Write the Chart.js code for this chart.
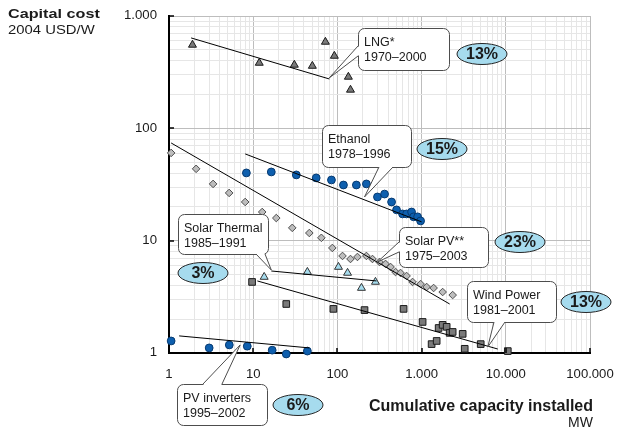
<!DOCTYPE html>
<html lang="en">
<head>
<meta charset="UTF-8">
<title>Capital cost vs cumulative capacity installed</title>
<script src="https://cdn.jsdelivr.net/npm/chart.js@4"></script>
<style>
  html, body { margin: 0; padding: 0; background: #fff; }
  canvas { display: block; }
</style>
</head>
<body>
<canvas id="chart" width="617" height="430"></canvas>
<script>
// axis ticks (thousands separator as in the source: 1.000)
const xTickValues = [1, 10, 100, 1000, 10000, 100000];
const xTickLabels = ['1', '10', '100', '1.000', '10.000', '100.000'];
const yTickValues = [1, 10, 100, 1000];
const yTickLabels = ['1', '10', '100', '1.000'];

// LNG 1970-2000
const lngCapacity = [1.9, 11.8, 30.8, 50.4, 72, 92, 135, 143];
const lngCost = [553, 382, 367, 359, 588, 441, 287, 220];
const lngTrendX = [1.83, 80.3];
const lngTrendY = [638, 275];

// Ethanol 1978-1996
const ethanolCapacity = [8.3, 16.4, 32.5, 56, 85, 118, 168, 221, 299, 363, 440, 504, 594, 663, 760, 804, 896, 973];
const ethanolCost = [40.1, 40.9, 38.5, 36.2, 34.7, 31.3, 31.3, 32.0, 24.5, 26.0, 22.1, 18.8, 17.3, 17.3, 18.0, 16.3, 16.3, 15.0];
const ethanolTrendX = [8.03, 1000];
const ethanolTrendY = [59.2, 14.7];

// Solar PV 1975-2003
const solarPvCapacity = [1.06, 2.1, 3.34, 5.18, 8.03, 12.8, 18.8, 29.1, 46.4, 64.5, 87.1, 115, 143, 173, 221, 261, 316, 373, 428, 490, 562, 663, 781, 973, 1148, 1389, 1778, 2339];
const solarPvCost = [60.4, 43.6, 32.0, 26.6, 22.1, 18.0, 15.9, 13.0, 11.7, 10.6, 8.61, 7.31, 6.87, 7.16, 7.31, 6.87, 6.46, 6.21, 5.83, 5.26, 5.16, 4.85, 4.29, 4.11, 3.87, 3.79, 3.49, 3.28];
const solarPvTrendX = [1.06, 2154];
const solarPvTrendY = [74.1, 2.73];

// Solar thermal 1985-1991
const solarThermalCapacity = [13.5, 44, 103, 132, 193, 283];
const solarThermalCost = [4.75, 5.26, 5.83, 5.16, 3.79, 4.29];
const solarThermalTrendX = [16.4, 291];
const solarThermalTrendY = [5.37, 4.38];

// Wind power 1981-2001
const windCapacity = [9.7, 24.7, 89.6, 210, 611, 1028, 1315, 1510, 1594, 1778, 1985, 2154, 2339, 3075, 3251, 5035, 10560];
const windCost = [4.29, 2.73, 2.47, 2.41, 2.47, 1.89, 1.20, 1.28, 1.67, 1.78, 1.71, 1.51, 1.54, 1.48, 1.09, 1.20, 1.04];
const windTrendX = [11.2, 8030];
const windTrendY = [4.38, 1.085];

// PV inverters 1995-2002
const pvInvCapacity = [1.06, 3.0, 5.2, 8.5, 16.8, 24.7, 44];
const pvInvCost = [1.28, 1.11, 1.18, 1.15, 1.06, 0.98, 1.04];
const pvInvTrendX = [1.32, 46.4];
const pvInvTrendY = [1.42, 1.11];

// callouts: box in pixels, tip in data units
const callouts = [
  { lines: ['LNG*', '1970–2000'], box: [358, 28, 91, 42], side: 'left', base: [46, 56], tip: [80, 281] },
  { lines: ['Ethanol', '1978–1996'], box: [322, 125, 89, 42], side: 'bottom', base: [379, 393], tip: [210, 24.5] },
  { lines: ['Solar PV**', '1975–2003'], box: [399, 227, 89, 40], side: 'left', base: [242, 252], tip: [299, 6.46] },
  { lines: ['Wind Power', '1981–2001'], box: [467, 281, 89, 41], side: 'bottom', base: [494, 505], tip: [6108, 1.13] },
  { lines: ['Solar Thermal', '1985–1991'], box: [178, 214, 90, 40], side: 'bottom', base: [256, 265], tip: [16.4, 5.48] },
  { lines: ['PV inverters', '1995–2002'], box: [177, 384, 90, 41], side: 'top', base: [203, 222], tip: [7.0, 1.18] }
];

// learning rates
const rates = [
  { text: '13%', at: [482, 54] },
  { text: '15%', at: [442, 149] },
  { text: '23%', at: [520, 242] },
  { text: '13%', at: [586, 302] },
  { text: '3%', at: [203, 273] },
  { text: '6%', at: [298, 405] }
];

const FONT = '"Liberation Sans", Arial, sans-serif';

function pts(xs, ys) {
  return xs.map((x, i) => ({ x: x, y: ys[i] }));
}

function logGrid(min, max) {
  const out = [];
  for (let d = min; d < max; d *= 10) {
    for (let k = 1; k < 10; k++) out.push(d * k);
  }
  out.push(max);
  return out;
}

function series(xs, ys, style, fill, border, radius) {
  return {
    data: pts(xs, ys), showLine: false, clip: false,
    pointStyle: style, pointRadius: radius, pointBackgroundColor: fill,
    pointBorderColor: border, pointBorderWidth: 1
  };
}

function trend(xs, ys) {
  return {
    data: pts(xs, ys), showLine: true, pointRadius: 0,
    borderColor: '#000', borderWidth: 1, fill: false
  };
}

function stretchText(ctx, str, x, y, font, align, sx) {
  ctx.save();
  ctx.font = font;
  ctx.textAlign = align;
  ctx.translate(x, y);
  ctx.scale(sx, 1);
  ctx.fillText(str, 0, 0);
  ctx.restore();
}

function roundBox(ctx, x, y, w, h, r) {
  ctx.beginPath();
  ctx.moveTo(x + r, y);
  ctx.lineTo(x + w - r, y);
  ctx.arcTo(x + w, y, x + w, y + r, r);
  ctx.lineTo(x + w, y + h - r);
  ctx.arcTo(x + w, y + h, x + w - r, y + h, r);
  ctx.lineTo(x + r, y + h);
  ctx.arcTo(x, y + h, x, y + h - r, r);
  ctx.lineTo(x, y + r);
  ctx.arcTo(x, y, x + r, y, r);
  ctx.closePath();
}

function drawCallout(ctx, c, xs, ys) {
  const [bx, by, bw, bh] = c.box;
  const tx = xs.getPixelForValue(c.tip[0]);
  const ty = ys.getPixelForValue(c.tip[1]);
  let p0, p1, cover;
  if (c.side === 'left') {
    p0 = [bx, c.base[0]]; p1 = [bx, c.base[1]];
    cover = [bx - 1, c.base[0] + 0.5, 2.5, c.base[1] - c.base[0] - 1];
  } else if (c.side === 'bottom') {
    p0 = [c.base[0], by + bh]; p1 = [c.base[1], by + bh];
    cover = [c.base[0] + 0.5, by + bh - 1.5, c.base[1] - c.base[0] - 1, 2.5];
  } else {
    p0 = [c.base[0], by]; p1 = [c.base[1], by];
    cover = [c.base[0] + 0.5, by - 1, c.base[1] - c.base[0] - 1, 2.5];
  }
  ctx.fillStyle = '#fff';
  ctx.strokeStyle = '#4d4d4d';
  ctx.lineWidth = 1;
  roundBox(ctx, bx + 0.5, by + 0.5, bw, bh, 6);
  ctx.fill();
  ctx.stroke();
  ctx.beginPath();
  ctx.moveTo(p0[0], p0[1]);
  ctx.lineTo(tx, ty);
  ctx.lineTo(p1[0], p1[1]);
  ctx.closePath();
  ctx.fill();
  ctx.fillRect(cover[0], cover[1], cover[2], cover[3]);
  ctx.beginPath();
  ctx.moveTo(p0[0], p0[1]);
  ctx.lineTo(tx, ty);
  ctx.lineTo(p1[0], p1[1]);
  ctx.stroke();
  ctx.fillStyle = '#1a1a1a';
  ctx.textBaseline = 'alphabetic';
  stretchText(ctx, c.lines[0], bx + 6, by + 18, '12.5px ' + FONT, 'left', 1);
  stretchText(ctx, c.lines[1], bx + 6, by + 33, '12.5px ' + FONT, 'left', 1);
}

const overlay = {
  id: 'overlay',
  afterDraw(chart) {
    const { ctx, chartArea: a } = chart;
    const xs = chart.scales.x, ys = chart.scales.y;
    ctx.save();

    // short decade ticks inside the axes
    ctx.strokeStyle = '#000';
    ctx.lineWidth = 1.5;
    xTickValues.forEach(v => {
      const px = Math.round(xs.getPixelForValue(v));
      ctx.beginPath(); ctx.moveTo(px, a.bottom); ctx.lineTo(px, a.bottom - 5); ctx.stroke();
    });
    yTickValues.forEach(v => {
      const py = Math.round(ys.getPixelForValue(v));
      ctx.beginPath(); ctx.moveTo(a.left, py); ctx.lineTo(a.left + 5, py); ctx.stroke();
    });

    // tick labels
    ctx.fillStyle = '#1a1a1a';
    ctx.textBaseline = 'middle';
    yTickValues.forEach((v, i) => {
      stretchText(ctx, yTickLabels[i], 157, ys.getPixelForValue(v), '12px ' + FONT, 'right', 1.1);
    });
    ctx.textBaseline = 'alphabetic';
    xTickValues.forEach((v, i) => {
      stretchText(ctx, xTickLabels[i], xs.getPixelForValue(v), 378, '12.5px ' + FONT, 'center', 1.05);
    });

    // axis titles
    stretchText(ctx, 'Capital cost', 8, 18, 'bold 13.5px ' + FONT, 'left', 1.2);
    stretchText(ctx, '2004 USD/W', 8, 34, '13.5px ' + FONT, 'left', 1.1);
    stretchText(ctx, 'Cumulative capacity installed', 593, 411, 'bold 16px ' + FONT, 'right', 1);
    stretchText(ctx, 'MW', 593, 427, '14px ' + FONT, 'right', 1);

    // callouts
    callouts.forEach(c => drawCallout(ctx, c, xs, ys));

    // learning-rate bubbles
    rates.forEach(r => {
      ctx.beginPath();
      ctx.ellipse(r.at[0], r.at[1], 25, 10.5, 0, 0, Math.PI * 2);
      ctx.fillStyle = '#a6dbee';
      ctx.fill();
      ctx.strokeStyle = '#262626';
      ctx.lineWidth = 1;
      ctx.stroke();
      ctx.fillStyle = '#1a1a1a';
      ctx.textBaseline = 'middle';
      stretchText(ctx, r.text, r.at[0], r.at[1] + 1, 'bold 16px ' + FONT, 'center', 1);
    });
    ctx.restore();
  }
};

const blue = '#0e5fae', blueEdge = '#073a70';
const darkGray = '#7a7a7a', lightGray = '#bdbdbd', lightBlue = '#a6dcee';

new Chart(document.getElementById('chart'), {
  type: 'scatter',
  data: {
    datasets: [
      trend(lngTrendX, lngTrendY),
      trend(ethanolTrendX, ethanolTrendY),
      trend(solarPvTrendX, solarPvTrendY),
      trend(solarThermalTrendX, solarThermalTrendY),
      trend(windTrendX, windTrendY),
      trend(pvInvTrendX, pvInvTrendY),
      series(solarPvCapacity, solarPvCost, 'rectRot', lightGray, '#4d4d4d', 3.8),
      series(lngCapacity, lngCost, 'triangle', darkGray, '#1a1a1a', 4.6),
      series(ethanolCapacity, ethanolCost, 'circle', blue, blueEdge, 3.9),
      series(solarThermalCapacity, solarThermalCost, 'triangle', lightBlue, '#333', 4.6),
      series(windCapacity, windCost, 'rect', darkGray, '#1a1a1a', 4.7),
      series(pvInvCapacity, pvInvCost, 'circle', blue, blueEdge, 3.9)
    ]
  },
  options: {
    responsive: false,
    animation: false,
    devicePixelRatio: 1,
    layout: { padding: { left: 0, right: 27, top: 16, bottom: 0 } },
    plugins: { legend: { display: false }, tooltip: { enabled: false } },
    scales: {
      x: {
        type: 'logarithmic', min: 1, max: 100000,
        afterBuildTicks: s => { s.ticks = logGrid(1, 100000).map(v => ({ value: v })); },
        afterFit: s => { s.height = 77; },
        ticks: { display: false, autoSkip: false },
        grid: {
          drawTicks: false,
          color: c => xTickValues.includes(c.tick && c.tick.value) ? '#bdbdbd' : '#e6e6e6'
        },
        border: { color: '#000', width: 2 }
      },
      y: {
        type: 'logarithmic', min: 1, max: 1000,
        afterBuildTicks: s => { s.ticks = logGrid(1, 1000).map(v => ({ value: v })); },
        afterFit: s => { s.width = 169; },
        ticks: { display: false, autoSkip: false },
        grid: {
          drawTicks: false,
          color: c => yTickValues.includes(c.tick && c.tick.value) ? '#bdbdbd' : '#e6e6e6'
        },
        border: { color: '#000', width: 2 }
      }
    }
  },
  plugins: [overlay]
});
</script>
</body>
</html>
